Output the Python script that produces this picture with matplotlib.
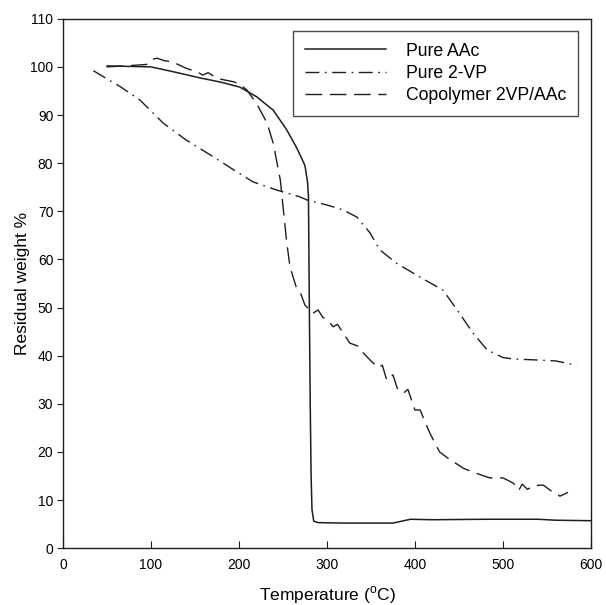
import matplotlib
matplotlib.use("Agg")
import matplotlib.pyplot as plt

plt.rcParams['font.family'] = ['Liberation Sans', 'DejaVu Sans']
plt.rcParams['mathtext.fontset'] = 'custom'
plt.rcParams['mathtext.rm'] = 'Liberation Sans'

# Pure AAc (solid)
aac_t = [50, 75, 100, 125, 156, 180, 201, 220, 239, 254, 265, 270, 275, 278, 279, 280, 281, 282, 283, 285, 290, 320, 350, 375, 385, 395, 420, 480, 520, 540, 560, 600]
aac_w = [100.2, 100.1, 100.0, 99.0, 97.7, 96.8, 95.8, 93.8, 91.0, 87.0, 83.4, 81.5, 79.5, 76.0, 73.0, 50.0, 30.0, 15.0, 8.0, 5.6, 5.3, 5.2, 5.2, 5.2, 5.6, 6.0, 5.9, 6.0, 6.0, 6.0, 5.8, 5.7]

# Pure 2-VP (dash-dot)
vp_t = [34.5, 50, 65, 87.5, 114, 140, 171, 194, 216, 243, 269, 278, 300, 318, 334, 349, 360, 379, 406, 432, 448, 466, 482, 500, 512, 538, 560, 584]
vp_w = [99.2, 97.5, 95.9, 93.1, 88.3, 84.8, 81.3, 78.6, 76.1, 74.4, 73.0, 72.3, 71.3, 70.3, 68.8, 65.5, 62.0, 59.2, 56.3, 53.6, 49.5, 44.7, 41.2, 39.6, 39.3, 39.1, 38.9, 38.0]

# Copolymer 2VP/AAc (dashed)
cop_t = [49.6, 70, 95, 100, 107, 115, 125, 140, 152, 159, 165, 175, 194, 200, 209, 220, 232, 239, 247, 254, 258, 265, 270, 275, 284, 290, 295, 300, 307, 312, 326, 335, 340, 349, 358, 363, 368, 375, 380, 387, 392, 400, 406, 412, 417, 428, 436, 445, 455, 469, 485, 500, 512, 518, 522, 528, 535, 546, 557, 565, 574]
cop_w = [100.0, 100.2, 100.5, 101.5, 101.8, 101.3, 101.0, 99.7, 99.0, 98.3, 98.8, 97.6, 96.9, 96.5, 95.2, 92.4, 88.3, 84.1, 76.5, 64.0, 58.4, 54.3, 53.0, 50.5, 48.8, 49.5, 48.0, 47.5, 46.0, 46.5, 42.6, 42.0, 40.8, 39.1, 37.5, 38.0, 34.9, 36.0, 33.2, 32.2, 33.0, 28.7, 28.7, 26.0, 23.9, 20.0, 18.9, 17.8, 16.6, 15.6, 14.6, 14.6, 13.5, 12.0, 13.3, 12.2, 13.0, 13.1, 11.6, 10.8, 11.6]

x_ticks = [0, 100, 200, 300, 400, 500, 600]
y_ticks = [0, 10, 20, 30, 40, 50, 60, 70, 80, 90, 100, 110]

fig = plt.figure(figsize=(6.06, 6.05), dpi=100)
ax = fig.add_axes([0.104, 0.094, 0.871, 0.875])

col = '#1e1e1e'
ax.plot(aac_t, aac_w, color=col, lw=1.1, linestyle='-', label='Pure AAc')
ax.plot(vp_t, vp_w, color=col, lw=1.0, linestyle=(0, (10, 4, 1.2, 4)), label='Pure 2-VP')
ax.plot(cop_t, cop_w, color=col, lw=1.0, linestyle=(0, (12, 5.5)), label='Copolymer 2VP/AAc')

ax.set_xlim(0, 600)
ax.set_ylim(0, 110)
ax.set_xticks(x_ticks)
ax.set_yticks(y_ticks)
ax.tick_params(axis='x', direction='in', length=5, labelsize=10, pad=7, color=col)
ax.tick_params(axis='y', direction='out', length=4, labelsize=10, pad=3, color=col)
for s in ax.spines.values():
    s.set_color(col)
    s.set_linewidth(1.0)

ax.set_xlabel('Temperature ($^{\\mathrm{o}}$C)', fontsize=12.5, labelpad=9)
ax.set_ylabel('Residual weight %', fontsize=12.5, labelpad=0)

leg = ax.legend(loc='upper right', bbox_to_anchor=(0.9754, 0.9766), fontsize=12.7,
                handlelength=4.6, handletextpad=1.14, frameon=True, fancybox=False,
                edgecolor=col, borderpad=0.65, labelspacing=0.3, borderaxespad=0)
leg.get_frame().set_linewidth(1.0)

fig.savefig('out.png', dpi=100)
